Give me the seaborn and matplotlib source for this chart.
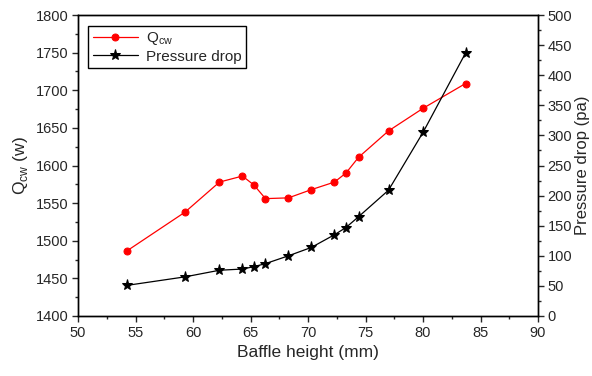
#!/usr/bin/env python3
"""Q_cw e queda de pressão em função da altura do defletor (eixo duplo)."""

import matplotlib
matplotlib.use("Agg")
import matplotlib.pyplot as plt
from matplotlib.ticker import MultipleLocator
import pandas as pd
import seaborn as sns

# dados
baffle_height = [54.3, 59.3, 62.3, 64.3, 65.3, 66.3, 68.3, 70.3, 72.3, 73.3, 74.4, 77.0, 80.0, 83.7]
q_cw = [1487, 1538, 1578, 1586, 1574, 1556, 1557, 1568, 1578, 1590, 1611, 1646, 1676, 1709]
pressure_drop = [51, 65, 76, 78, 82, 87, 100, 114, 135, 147, 165, 209, 305, 437]

x_ticks = [50, 55, 60, 65, 70, 75, 80, 85, 90]

df = pd.DataFrame({"h": baffle_height, "q": q_cw, "dp": pressure_drop})

sns.set_style("ticks")
plt.rcParams["font.family"] = ["Liberation Sans", "DejaVu Sans"]
plt.rcParams["mathtext.fontset"] = "custom"
plt.rcParams["mathtext.rm"] = "Liberation Sans"

fig = plt.figure(figsize=(5.92, 3.76), dpi=100)
ax = fig.add_axes([0.1318, 0.1596, 0.777, 0.8004])
ax2 = ax.twinx()

sns.lineplot(data=df, x="h", y="q", ax=ax, color="red", marker="o", markersize=5,
             markeredgecolor="red", linewidth=0.9, label="Q$_{\\rm cw}$", legend=False)
sns.lineplot(data=df, x="h", y="dp", ax=ax2, color="black", marker="*", markersize=8,
             markeredgecolor="black", linewidth=0.9, label="Pressure drop", legend=False)

ax.set_xlim(50, 90)
ax.set_ylim(1400, 1800)
ax2.set_ylim(0, 500)
ax.set_xticks(x_ticks)
ax.xaxis.set_minor_locator(MultipleLocator(2.5))
ax.yaxis.set_major_locator(MultipleLocator(50))
ax.yaxis.set_minor_locator(MultipleLocator(25))
ax2.yaxis.set_major_locator(MultipleLocator(50))
ax2.yaxis.set_minor_locator(MultipleLocator(25))

for a in (ax, ax2):
    a.tick_params(which="major", length=4, width=1, labelsize=10.5, direction="out", pad=3)
    a.tick_params(which="minor", length=2.5, width=1, direction="out")
    for sp in a.spines.values():
        sp.set_visible(True)
        sp.set_linewidth(1.0)
        sp.set_color("black")

ax.set_xlabel("Baffle height (mm)", fontsize=12.5)
ax.set_ylabel("Q$_{\\rm cw}$ (w)", fontsize=12.5)
ax2.set_ylabel("Pressure drop (pa)", fontsize=12, labelpad=2)

h1, l1 = ax.get_legend_handles_labels()
h2, l2 = ax2.get_legend_handles_labels()
leg = ax.legend(h1 + h2, l1 + l2, loc="upper left", fontsize=11, frameon=True,
                fancybox=False, edgecolor="black", framealpha=1, borderpad=0.3,
                handlelength=3.0, handletextpad=0.5, labelspacing=0.15,
                bbox_to_anchor=(0.005, 0.99))
leg.get_frame().set_linewidth(1.0)

fig.savefig("out.png", dpi=100)
